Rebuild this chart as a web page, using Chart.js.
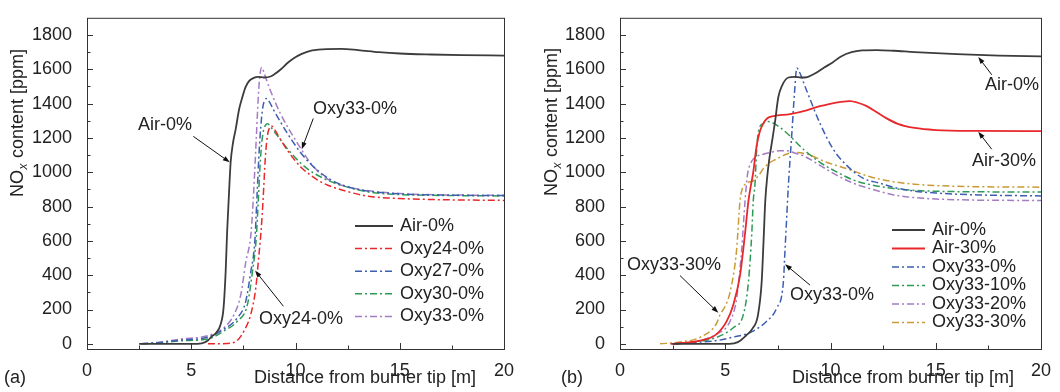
<!DOCTYPE html>
<html>
<head>
<meta charset="utf-8">
<script src="https://cdn.jsdelivr.net/npm/chart.js@4.4.0/dist/chart.umd.min.js"></script>
<style>
  html, body { margin: 0; padding: 0; background: #fff; }
  .wrap { position: absolute; top: 0; width: 530px; height: 392px; }
</style>
</head>
<body>
<div class="wrap" style="left:0"><canvas id="chartA"></canvas></div>
<div class="wrap" style="left:530px"><canvas id="chartB"></canvas></div>
<script>
// axis ticks
const xTicks = [0, 5, 10, 15, 20];
const yTicks = [0, 200, 400, 600, 800, 1000, 1200, 1400, 1600, 1800];

// panel (a) : [distance m, NOx ppm]
const airA = [[2.5,0],[5,0],[5.5,3],[5.8,20],[6.0,45],[6.2,65],[6.4,110],[6.55,210],[6.65,420],[6.72,650],[6.8,850],[6.89,1058],[7.0,1170],[7.13,1250],[7.3,1370],[7.45,1437],[7.6,1495],[7.77,1531],[8.0,1550],[8.2,1556],[8.5,1552],[8.8,1558],[9.0,1572],[9.3,1600],[9.6,1635],[9.9,1663],[10.3,1690],[10.8,1710],[11.5,1718],[12.2,1719],[13,1712],[14,1700],[15,1692],[16.5,1686],[18,1682],[20,1680]];
const oxy24A = [[5.8,0],[6.7,2],[7.2,19],[7.53,75],[7.85,170],[8.09,321],[8.24,510],[8.35,660],[8.45,850],[8.55,1080],[8.65,1210],[8.77,1262],[8.87,1268],[9.0,1248],[9.28,1191],[9.6,1130],[9.92,1077],[10.3,1025],[10.72,983],[11.1,952],[11.52,926],[12.47,888],[13.5,860],[15,847],[17,840],[20,836]];
const oxy27A = [[2.6,0],[3.5,8],[4.5,22],[5.77,38],[6.57,85],[7.21,151],[7.61,246],[7.85,416],[8.05,600],[8.15,850],[8.27,1150],[8.4,1350],[8.52,1420],[8.63,1430],[8.75,1410],[8.96,1361],[9.6,1229],[10.24,1115],[10.88,1030],[11.67,958],[12.5,915],[13.5,890],[15,874],[17,867],[20,864]];
const oxy30A = [[2.6,0],[3.5,6],[4.5,18],[5.77,28],[6.57,75],[7.21,132],[7.69,227],[7.93,416],[8.12,620],[8.22,850],[8.32,1080],[8.43,1220],[8.55,1272],[8.67,1282],[8.8,1265],[9.12,1215],[9.76,1115],[10.56,1021],[11.35,964],[12.15,926],[13.5,885],[15,870],[17,865],[20,862]];
const oxy33A = [[2.6,0],[3.5,10],[4.5,28],[5.77,47],[6.57,94],[7.05,170],[7.37,283],[7.61,472],[7.87,650],[8.0,900],[8.12,1200],[8.22,1450],[8.3,1570],[8.38,1612],[8.5,1575],[8.8,1475],[9.28,1341],[10.08,1172],[10.88,1030],[11.67,950],[12.5,915],[13.5,892],[15,876],[17,868],[20,866]];

// panel (b)
const airB = [[2.5,0],[5.2,0],[5.6,10],[6.0,50],[6.3,90],[6.55,165],[6.73,360],[6.82,600],[6.9,830],[7.0,980],[7.12,1100],[7.25,1200],[7.36,1290],[7.52,1437],[7.7,1505],[8.0,1552],[8.3,1556],[8.6,1552],[8.9,1555],[9.3,1578],[9.7,1610],[10.1,1640],[10.5,1675],[11,1700],[11.5,1710],[12.2,1712],[13,1708],[14,1700],[16,1688],[18,1680],[20,1675]];
const air30B = [[2.4,0],[3.0,5],[3.8,19],[4.59,57],[5.07,132],[5.38,227],[5.7,397],[5.94,643],[6.1,832],[6.2,910],[6.33,1000],[6.49,1153],[6.65,1240],[6.81,1285],[7.0,1315],[7.28,1327],[8.08,1339],[8.87,1361],[9.5,1385],[9.98,1399],[10.5,1410],[10.93,1414],[11.3,1405],[11.72,1385],[12.2,1350],[12.67,1314],[13.2,1282],[14,1258],[15,1246],[17,1241],[20,1240]];
const oxy33_0B = [[2.6,0],[3.5,8],[4.59,19],[5.4,40],[6.18,66],[6.97,132],[7.44,208],[7.76,359],[7.84,548],[7.92,737],[8.0,926],[8.15,1200],[8.3,1480],[8.4,1607],[8.5,1590],[8.87,1475],[9.5,1285],[10.13,1134],[10.77,1040],[11.56,964],[12.35,936],[13,912],[14,890],[15,879],[17,868],[20,862]];
const oxy33_10B = [[2.5,0],[3.5,10],[4.59,38],[5.38,94],[5.86,170],[6.1,359],[6.26,643],[6.33,832],[6.41,926],[6.5,1150],[6.6,1250],[6.81,1285],[7.05,1295],[7.3,1285],[7.92,1229],[8.71,1134],[9.5,1058],[10.29,1002],[11.08,955],[11.88,928],[13,905],[14,894],[16,887],[20,885]];
const oxy33_20B = [[2.5,0],[3.5,10],[4.59,57],[5.23,132],[5.54,264],[5.78,548],[5.94,832],[6.05,980],[6.2,1050],[6.4,1085],[6.8,1105],[7.13,1115],[7.6,1125],[7.92,1125],[8.3,1112],[8.71,1096],[9.5,1040],[10.29,983],[11.08,936],[12,900],[13,868],[14,852],[16,840],[20,835]];
const oxy33_30B = [[1.9,0],[2.8,10],[3.8,38],[4.59,120],[4.75,170],[5.0,220],[5.23,302],[5.54,548],[5.7,832],[5.8,900],[6.0,935],[6.33,950],[6.55,975],[6.81,1021],[7.1,1055],[7.44,1077],[7.8,1100],[8.23,1115],[8.87,1106],[9.82,1058],[10.77,1021],[11.88,974],[12.98,945],[14,930],[16,918],[20,913]];

const FONT = 'Arial, "Liberation Sans", sans-serif';
const TXT = '#222';
const DASH = [7, 3, 2, 3];

Chart.defaults.font.family = FONT;
Chart.defaults.font.size = 18;
Chart.defaults.color = TXT;

function toXY(pts) {
    return pts.map(([x, y]) => ({ x: x, y: y }));
}

function line(label, pts, color, dashed) {
    return {
        label: label,
        data: toXY(pts),
        borderColor: color,
        backgroundColor: color,
        borderWidth: dashed ? 1.5 : 1.8,
        borderDash: dashed ? DASH : [],
        pointRadius: 0,
        cubicInterpolationMode: 'monotone',
        fill: false
    };
}

// frame, inward ticks, titles, legend and arrow notes
const decorPlugin = {
    id: 'decor',
    afterDraw(chart) {
        const o = chart.options.plugins.decor;
        const { ctx, chartArea: a } = chart;
        const xs = chart.scales.x, ys = chart.scales.y;
        ctx.save();

        // frame
        ctx.strokeStyle = '#333';
        ctx.lineWidth = 1;
        ctx.strokeRect(a.left + 0.5, a.top + 0.5, a.right - a.left, a.bottom - a.top);

        // ticks (major + minor halfway)
        ctx.beginPath();
        for (let i = 0; i < xTicks.length; i++) {
            const px = Math.round(xs.getPixelForValue(xTicks[i])) + 0.5;
            ctx.moveTo(px, a.bottom); ctx.lineTo(px, a.bottom - 6);
            if (i < xTicks.length - 1) {
                const mx = Math.round(xs.getPixelForValue((xTicks[i] + xTicks[i + 1]) / 2)) + 0.5;
                ctx.moveTo(mx, a.bottom); ctx.lineTo(mx, a.bottom - 3.5);
            }
        }
        for (let i = 0; i < yTicks.length; i++) {
            const py = Math.round(ys.getPixelForValue(yTicks[i])) + 0.5;
            ctx.moveTo(a.left, py); ctx.lineTo(a.left + 6, py);
            if (i < yTicks.length - 1) {
                const my = Math.round(ys.getPixelForValue((yTicks[i] + yTicks[i + 1]) / 2)) + 0.5;
                ctx.moveTo(a.left, my); ctx.lineTo(a.left + 3.5, my);
            }
        }
        ctx.stroke();

        // y title with subscript
        ctx.fillStyle = TXT;
        ctx.translate(o.yTitleX, o.yTitleY);
        ctx.rotate(-Math.PI / 2);
        ctx.textBaseline = 'middle';
        ctx.textAlign = 'left';
        ctx.font = '18px ' + FONT;
        ctx.fillText('NO', 0, 0);
        let w = ctx.measureText('NO').width;
        ctx.font = 'italic 12px ' + FONT;
        ctx.fillText('x', w + 0.5, 6);
        w += ctx.measureText('x').width + 1;
        ctx.font = '18px ' + FONT;
        ctx.fillText(' content [ppm]', w, 0);
        ctx.setTransform(1, 0, 0, 1, 0, 0);
        ctx.scale(chart.currentDevicePixelRatio, chart.currentDevicePixelRatio);

        // x title and panel letter
        ctx.font = '18px ' + FONT;
        ctx.textBaseline = 'middle';
        ctx.textAlign = 'center';
        ctx.fillText('Distance from burner tip [m]', o.xTitleX, 378);
        ctx.fillText(o.letter, o.letterX, 378);

        // legend
        const lg = o.legend;
        chart.data.datasets.forEach((ds, i) => {
            const y = lg.y0 + i * lg.dy;
            ctx.beginPath();
            ctx.strokeStyle = ds.borderColor;
            ctx.lineWidth = ds.borderWidth;
            ctx.setLineDash(ds.borderDash);
            ctx.moveTo(lg.x0, y); ctx.lineTo(lg.x1, y);
            ctx.stroke();
            ctx.setLineDash([]);
            ctx.textAlign = 'left';
            ctx.fillStyle = TXT;
            ctx.fillText(ds.label, lg.textX, y);
        });

        // notes with arrows (data coordinates)
        ctx.strokeStyle = '#111';
        ctx.lineWidth = 1;
        o.notes.forEach(n => {
            ctx.textAlign = 'center';
            ctx.fillStyle = TXT;
            ctx.fillText(n.text, xs.getPixelForValue(n.at[0]), ys.getPixelForValue(n.at[1]));
            const x1 = xs.getPixelForValue(n.from[0]), y1 = ys.getPixelForValue(n.from[1]);
            const x2 = xs.getPixelForValue(n.to[0]), y2 = ys.getPixelForValue(n.to[1]);
            const ang = Math.atan2(y2 - y1, x2 - x1);
            ctx.beginPath();
            ctx.moveTo(x1, y1);
            ctx.lineTo(x2 - 5 * Math.cos(ang), y2 - 5 * Math.sin(ang));
            ctx.stroke();
            ctx.fillStyle = '#111';
            ctx.beginPath();
            ctx.moveTo(x2, y2);
            ctx.lineTo(x2 - 7 * Math.cos(ang) + 2.5 * Math.sin(ang), y2 - 7 * Math.sin(ang) - 2.5 * Math.cos(ang));
            ctx.lineTo(x2 - 7 * Math.cos(ang) - 2.5 * Math.sin(ang), y2 - 7 * Math.sin(ang) + 2.5 * Math.cos(ang));
            ctx.closePath();
            ctx.fill();
        });
        ctx.restore();
    }
};

function makeChart(id, datasets, yAxisWidth, padRight, padTop, decor) {
    const ctx = document.getElementById(id).getContext('2d');
    return new Chart(ctx, {
        type: 'line',
        data: { datasets: datasets },
        options: {
            responsive: true,
            maintainAspectRatio: false,
            animation: false,
            layout: { padding: { top: padTop, right: padRight, left: 0, bottom: 0 } },
            plugins: {
                legend: { display: false },
                tooltip: { enabled: false },
                decor: decor
            },
            scales: {
                x: {
                    type: 'linear',
                    min: 0,
                    max: 20,
                    grid: { display: false },
                    border: { display: false },
                    ticks: { padding: 3, maxRotation: 0, callback: v => String(v) },
                    afterBuildTicks: s => { s.ticks = xTicks.map(v => ({ value: v })); },
                    afterFit: s => { s.height = 43; }
                },
                y: {
                    type: 'linear',
                    min: -30,
                    max: 1900,
                    grid: { display: false },
                    border: { display: false },
                    ticks: { padding: 7, callback: v => String(v) },
                    afterBuildTicks: s => { s.ticks = yTicks.map(v => ({ value: v })); },
                    afterFit: s => { s.width = yAxisWidth; }
                }
            }
        },
        plugins: [decorPlugin]
    });
}

makeChart('chartA', [
    line('Air-0%', airA, '#3c3c3c', false),
    line('Oxy24-0%', oxy24A, '#e8282a', true),
    line('Oxy27-0%', oxy27A, '#3d5fb0', true),
    line('Oxy30-0%', oxy30A, '#2f9a55', true),
    line('Oxy33-0%', oxy33A, '#a47cc4', true)
], 87, 26, 8, {
    yTitleX: 18, yTitleY: 197,
    xTitleX: 365, letter: '(a)', letterX: 15,
    legend: { x0: 355, x1: 393, textX: 400, y0: 226, dy: 22.6 },
    notes: [
        { text: 'Air-0%', at: [3.74, 1277], from: [5.1, 1209], to: [6.85, 1058] },
        { text: 'Oxy33-0%', at: [12.85, 1367], from: [10.85, 1313], to: [10.3, 1134] },
        { text: 'Oxy24-0%', at: [10.26, 145], from: [9.42, 219], to: [8.06, 427] }
    ]
});

makeChart('chartB', [
    line('Air-0%', airB, '#3c3c3c', false),
    line('Air-30%', air30B, '#e8282a', false),
    line('Oxy33-0%', oxy33_0B, '#3d5fb0', true),
    line('Oxy33-10%', oxy33_10B, '#2f9a55', true),
    line('Oxy33-20%', oxy33_20B, '#a47cc4', true),
    line('Oxy33-30%', oxy33_30B, '#c99a35', true)
], 90, 19, 7, {
    yTitleX: 22, yTitleY: 196,
    xTitleX: 373, letter: '(b)', letterX: 42,
    legend: { x0: 362, x1: 395, textX: 402, y0: 230, dy: 18.5 },
    notes: [
        { text: 'Air-0%', at: [18.62, 1509], from: [17.66, 1568], to: [17.02, 1672] },
        { text: 'Air-30%', at: [18.24, 1068], from: [17.66, 1134], to: [17.02, 1236] },
        { text: 'Oxy33-30%', at: [2.57, 457], from: [2.85, 398], to: [4.67, 181] },
        { text: 'Oxy33-0%', at: [10.07, 286], from: [9.03, 342], to: [7.84, 464] }
    ]
});
</script>
</body>
</html>
